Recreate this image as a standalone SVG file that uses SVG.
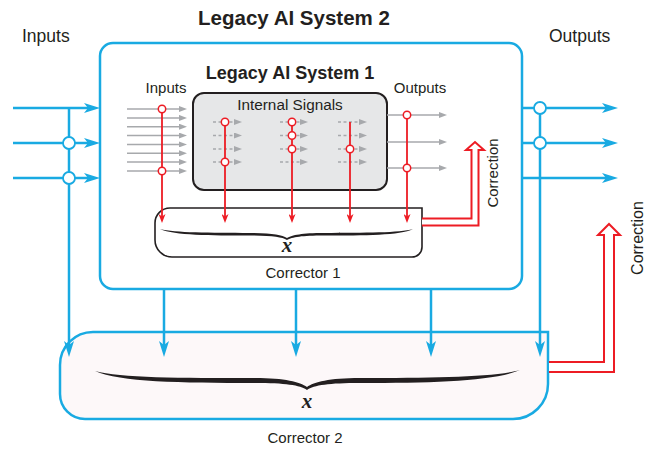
<svg xmlns="http://www.w3.org/2000/svg" width="654" height="449" viewBox="0 0 654 449">
<defs>
<style>
.t{font-family:"Liberation Sans",Arial,sans-serif;fill:#231F20}
.b{font-weight:bold}
.xv{font-family:"Liberation Serif","Times New Roman",serif;font-style:italic;font-weight:bold;font-size:21px;fill:#231F20}
.blue{stroke:#19AAE2;stroke-width:2.5;fill:none}
.red{stroke:#ED1C24;stroke-width:1.8;fill:none}
.gray{stroke:#A7A9AC;stroke-width:1.5;fill:none}
.dash{stroke:#A7A9AC;stroke-width:1.5;fill:none;stroke-dasharray:3 2.5}
.bc{fill:#fff;stroke:#19AAE2;stroke-width:1.8}
.rc{fill:#fff;stroke:#ED1C24;stroke-width:1.5}
.hollow{fill:#fff;stroke:#ED1C24;stroke-width:2}
</style>
<marker id="ab" viewBox="0 0 16 10" refX="8" refY="5" markerWidth="16" markerHeight="10" markerUnits="userSpaceOnUse" orient="auto">
<path d="M0,0 L16,5 L0,10 L4,5 Z" fill="#19AAE2"/>
</marker>
<marker id="ar" viewBox="0 0 9 7" refX="3" refY="3.5" markerWidth="9" markerHeight="7" markerUnits="userSpaceOnUse" orient="auto">
<path d="M0,0 L9,3.5 L0,7 L2.5,3.5 Z" fill="#ED1C24"/>
</marker>
<marker id="ag" viewBox="0 0 8 6" refX="2" refY="3" markerWidth="8" markerHeight="6" markerUnits="userSpaceOnUse" orient="auto">
<path d="M0,0 L8,3 L0,6 Z" fill="#A7A9AC"/>
</marker>
</defs>
<rect width="654" height="449" fill="#fff"/>

<g id="system2">
<rect x="100" y="43" width="422" height="246" rx="13" fill="#fff" stroke="#19AAE2" stroke-width="2.5"/>
<text class="t b" x="294" y="25" font-size="20.5" text-anchor="middle">Legacy AI System 2</text>
</g>

<g id="corrector2">
<path d="M 93 332 L 548 332 L 548 384 A 35 35 0 0 1 513 419 L 85 419 A 25 25 0 0 1 60 394 L 60 365 A 33 33 0 0 1 93 332 Z" fill="#FDF8F9" stroke="#19AAE2" stroke-width="2.5"/>
<path d="M 95 371 C 120 378, 180 378, 255 378 C 285 378, 300 382, 307 387 C 314 382, 329 378, 360 378 C 435 378, 495 377, 520 370 C 495 381, 435 383, 360 383 C 329 383, 314 385, 307 390 C 300 385, 285 383, 255 383 C 180 383, 120 382, 95 371 Z" fill="#231F20"/>
<text class="xv" x="307" y="408" text-anchor="middle">x</text>
<text class="t" x="305" y="443" font-size="15" text-anchor="middle">Corrector 2</text>
</g>

<g id="system1">
<text class="t b" x="290" y="79" font-size="18" text-anchor="middle">Legacy AI System 1</text>
<text class="t" x="166" y="93" font-size="15" text-anchor="middle">Inputs</text>
<text class="t" x="420" y="93" font-size="15" text-anchor="middle">Outputs</text>
</g>

<g id="internal">
<rect x="193" y="93" width="194" height="97" rx="11" fill="#E6E7E8" stroke="#231F20" stroke-width="2"/>
<text class="t" x="290" y="110" font-size="15.3" text-anchor="middle">Internal Signals</text>
</g>

<g id="corrector1">
<path d="M 170 208 L 422 208 L 422 247 A 10 10 0 0 1 412 257 L 172 257 A 17 17 0 0 1 155 240 L 155 223 A 15 15 0 0 1 170 208 Z" fill="#fff" stroke="#231F20" stroke-width="1.6"/>
<path d="M 160 229 C 175 233, 210 232.5, 250 233 C 272 233, 282 235, 287 238 C 292 235, 302 233, 324 233 C 365 232.5, 400 233, 413 229 C 400 235.5, 365 235.5, 324 235.5 C 302 235.5, 292 237, 287 240 C 282 237, 272 235.5, 250 235.5 C 210 235.5, 175 235.5, 160 229 Z" fill="#231F20"/>
<text class="xv" x="287" y="252" text-anchor="middle">x</text>
<text class="t" x="303" y="278" font-size="15" text-anchor="middle">Corrector 1</text>
</g>

<g id="labels">
<text class="t" x="22" y="42" font-size="17.5">Inputs</text>
<text class="t" x="549" y="42" font-size="17.5">Outputs</text>
<text class="t" font-size="15" text-anchor="middle" transform="translate(498,173) rotate(-90)">Correction</text>
<text class="t" font-size="16" text-anchor="middle" transform="translate(643,238) rotate(-90)">Correction</text>
</g>

<g id="connectors">
<g class="gray" marker-end="url(#ag)">
<path d="M127 109 H181"/><path d="M127 117.9 H181"/><path d="M127 126.7 H181"/><path d="M127 135.6 H181"/>
<path d="M127 144.4 H181"/><path d="M127 153.3 H181"/><path d="M127 162.1 H181"/><path d="M127 171 H181"/>
</g>
<g class="dash" marker-end="url(#ag)">
<path d="M213 122 H236"/><path d="M213 135.5 H236"/><path d="M213 149 H236"/><path d="M213 162 H236"/>
<path d="M280 122 H302"/><path d="M280 135.5 H302"/><path d="M280 149 H302"/><path d="M280 162 H302"/>
<path d="M338 122 H361"/><path d="M338 135.5 H361"/><path d="M338 149 H361"/><path d="M338 162 H361"/>
</g>
<g class="gray" marker-end="url(#ag)">
<path d="M387 115 H441"/><path d="M387 142 H441"/><path d="M387 168 H441"/>
</g>
<g class="red" marker-end="url(#ar)">
<path d="M162 109 V217"/>
<path d="M225 122 V217"/>
<path d="M292 122 V217"/>
<path d="M350 122 V217"/>
<path d="M407 115 V217"/>
</g>
<circle class="rc" cx="162" cy="109" r="3.7"/><circle class="rc" cx="162" cy="171" r="3.7"/>
<circle class="rc" cx="225" cy="122" r="3.7"/><circle class="rc" cx="225" cy="162" r="3.7"/>
<circle class="rc" cx="292" cy="122" r="3.7"/><circle class="rc" cx="292" cy="135.5" r="3.7"/><circle class="rc" cx="292" cy="149" r="3.7"/>
<circle class="rc" cx="350" cy="149" r="3.7"/>
<circle class="rc" cx="407" cy="115" r="3.7"/><circle class="rc" cx="407" cy="168" r="3.7"/>

<g class="blue" marker-end="url(#ab)">
<path d="M13 108 H92"/><path d="M13 143 H92"/><path d="M13 178 H92"/>
<path d="M522 108 H610"/><path d="M522 143 H610"/><path d="M522 178 H610"/>
</g>
<g class="blue" stroke-width="2" marker-end="url(#ab)">
<path d="M69 108 V349"/>
<path d="M540 108 V349"/>
<path d="M164 289 V349"/>
<path d="M296 289 V349"/>
<path d="M431 289 V349"/>
</g>
<circle class="bc" cx="69" cy="143" r="6"/><circle class="bc" cx="69" cy="178" r="6"/>
<circle class="bc" cx="540" cy="108" r="6"/><circle class="bc" cx="540" cy="143" r="6"/>

<path class="hollow" d="M 422 218.5 L 471.5 218.5 L 471.5 150 L 466 150 L 475 142 L 484 150 L 478.5 150 L 478.5 225.5 L 422 225.5"/>
<path class="hollow" d="M 549 362 L 604 362 L 604 235 L 598 235 L 609 224 L 620 235 L 614 235 L 614 372 L 549 372"/>
</g>
</svg>
